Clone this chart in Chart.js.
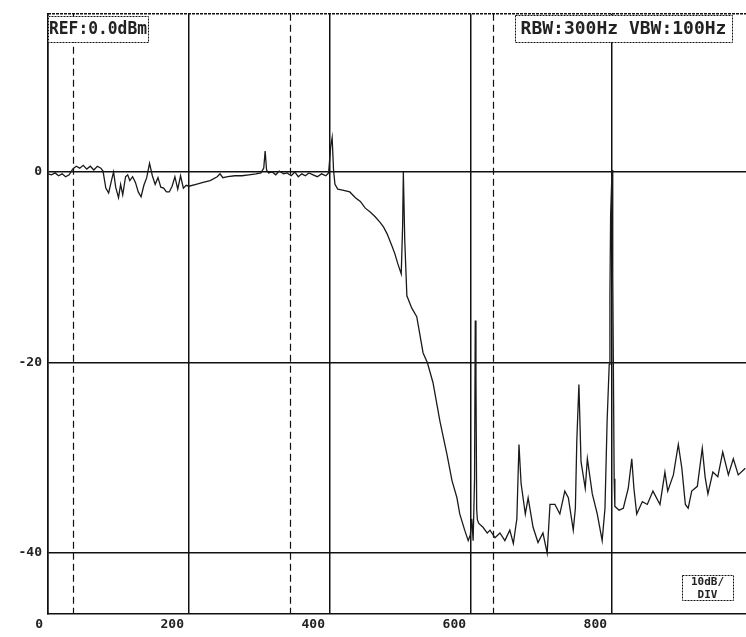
<!DOCTYPE html>
<html>
<head>
<meta charset="utf-8">
<script src="https://cdn.jsdelivr.net/npm/chart.js@4"></script>
<style>
  html, body { margin: 0; padding: 0; background: #fff; }
  #wrap { width: 746px; height: 637px; position: relative; }
</style>
</head>
<body>
<div id="wrap"><canvas id="traceChart"></canvas></div>
<script>
// --- Data ---

const freqX = [
  0, 5, 10, 15, 20, 25, 30, 35, 40, 45, 50, 55, 60, 65, 70, 75, 78,
  82, 86, 90, 93, 96, 100, 103, 106, 110, 113, 116, 120, 124, 128, 132, 136, 140, 144, 148,
  152, 156, 160, 164, 168, 172, 176, 180, 184, 188, 192, 196, 200,
  210, 220, 230, 240, 244, 248, 255, 265, 275, 285, 295, 302, 306, 308, 310, 313, 318, 323,
  328, 334, 339, 345, 350, 355, 360, 365, 370, 376, 382, 388, 394, 398,
  401, 403, 405, 407, 411, 418, 428, 436, 443, 450, 457, 464, 471, 476, 481, 488, 492, 496,
  501, 503, 504, 506, 509, 516, 523, 532, 538, 546, 556, 566, 573, 580, 584, 591, 596, 599,
  601, 603, 605, 606, 607, 608, 609, 611, 617, 623, 627, 634, 641, 648, 655, 660, 665, 668,
  671, 677, 681, 688, 695, 702, 708, 712, 719, 726, 733, 738, 745, 748, 750, 753, 756, 762,
  765, 772, 779, 786, 790, 793, 796, 797, 798, 800, 801, 803, 804, 810, 816, 823, 828, 831,
  835, 843, 850, 858, 868, 875, 879, 887, 894, 899, 904, 908, 913, 921, 928, 932, 936, 943,
  950, 957, 965, 972, 979, 989,
];

const levelY = [
  -0.2, -0.3, -0.1, -0.4, -0.2, -0.5, -0.3, 0.3, 0.6, 0.4, 0.7, 0.3, 0.6, 0.2, 0.6, 0.4, 0.1,
  -1.7, -2.2, -0.9, 0.0, -1.6, -2.7, -1.3, -2.4, -0.5, -0.3, -0.9, -0.5, -1.1, -2.1, -2.6, -1.4, -0.6, 0.9, -0.4,
  -1.3, -0.6, -1.6, -1.7, -2.1, -2.1, -1.5, -0.5, -1.8, -0.4, -1.7, -1.4, -1.5,
  -1.3, -1.1, -0.9, -0.5, -0.2, -0.6, -0.5, -0.4, -0.4, -0.3, -0.2, -0.1, 0.4, 2.2, 0.2, -0.1, 0.0, -0.3,
  0.1, -0.2, -0.1, -0.4, 0.0, -0.5, -0.2, -0.4, -0.1, -0.3, -0.5, -0.2, -0.4, -0.1,
  2.7, 3.6, 0.2, -1.3, -1.8, -1.9, -2.1, -2.7, -3.1, -3.8, -4.2, -4.7, -5.3, -5.8, -6.5, -7.8, -8.6, -9.6,
  -10.7, -5.6, 0.0, -7.2, -13.0, -14.3, -15.2, -19.0, -20.0, -22.1, -26.2, -29.7, -32.4, -34.2, -35.9, -37.6, -38.7, -38.1,
  -36.4, -38.7, -32.2, -15.6, -21.6, -35.4, -36.5, -36.9, -37.3, -37.9, -37.6, -38.4, -37.9, -38.7, -37.6, -39.0, -36.4, -28.6,
  -32.7, -35.9, -34.2, -37.3, -38.9, -37.9, -40.0, -34.9, -34.9, -35.9, -33.5, -34.2, -37.6, -35.3, -28.3, -22.3, -30.4, -33.2,
  -30.1, -33.8, -35.9, -38.7, -35.3, -26.2, -20.2, -13.0, -4.5, 0.2, -10.9, -32.2, -35.1, -35.5, -35.3, -33.2, -30.1, -33.2,
  -35.9, -34.6, -34.9, -33.5, -34.9, -31.5, -33.5, -31.8, -28.6, -31.1, -34.9, -35.3, -33.5, -33.0, -29.0, -32.0, -33.8, -31.5,
  -32.0, -29.4, -31.8, -30.1, -31.8, -31.1,
];

const xTicks = [0, 200, 400, 600, 800];
const yTicks = [0, -20, -40];
const markerX = [35, 343, 631];          // dashed marker lines
const headerLeft = 'REF:0.0dBm';
const headerRight = 'RBW:300Hz VBW:100Hz';
const footerLines = ['10dB/', 'DIV'];

const INK = '#111';
const MONO = "'DejaVu Sans Mono', monospace";

// --- Overlay plugin: frame, marker lines, annotation boxes ---

const printoutOverlay = {
  id: 'printoutOverlay',
  beforeDatasetsDraw(chart) {
    const { ctx, chartArea: a, scales } = chart;
    ctx.save();
    ctx.strokeStyle = INK;
    // top frame line
    ctx.lineWidth = 1.5;
    ctx.setLineDash([3, 1]);
    ctx.beginPath();
    ctx.moveTo(a.left, a.top);
    ctx.lineTo(a.right, a.top);
    ctx.stroke();
    // dashed markers
    ctx.lineWidth = 1.2;
    ctx.setLineDash([7, 4]);
    markerX.forEach(v => {
      const px = Math.round(scales.x.getPixelForValue(v)) + 0.5;
      ctx.beginPath();
      ctx.moveTo(px, a.top);
      ctx.lineTo(px, a.bottom);
      ctx.stroke();
    });
    ctx.restore();
  },
  afterDraw(chart) {
    const { ctx } = chart;
    const box = (x, y, w, h, lines, size) => {
      ctx.save();
      ctx.fillStyle = '#fff';
      ctx.fillRect(x, y, w, h);
      ctx.strokeStyle = INK;
      ctx.lineWidth = 1;
      ctx.setLineDash([2, 1]);
      ctx.strokeRect(x + 0.5, y + 0.5, w, h);
      ctx.fillStyle = '#222';
      ctx.font = `bold ${size}px ${MONO}`;
      ctx.textBaseline = 'middle';
      ctx.textAlign = 'center';
      const step = h / lines.length;
      lines.forEach((t, i) => ctx.fillText(t, x + w / 2, y + step * (i + 0.5) + 1, w - 2));
      ctx.restore();
    };
    box(48, 16, 100, 26, [headerLeft], 17);
    box(515, 15, 217, 27, [headerRight], 18);
    box(682, 575, 51, 25, footerLines, 11);
  },
};

// --- Chart ---

function initTraceChart() {
  const ctx = document.getElementById('traceChart').getContext('2d');
  new Chart(ctx, {
    type: 'line',
    data: {
      datasets: [{
        data: freqX.map((x, i) => ({ x, y: levelY[i] })),
        borderColor: '#1a1a1a',
        borderWidth: 1.3,
        pointRadius: 0,
        tension: 0,
        fill: false,
      }],
    },
    options: {
      responsive: true,
      maintainAspectRatio: false,
      animation: false,
      layout: { padding: { top: 8, right: 0, bottom: 0, left: 0 } },
      plugins: {
        legend: { display: false },
        tooltip: { enabled: false },
      },
      scales: {
        x: {
          type: 'linear',
          min: 0,
          max: 990,
          afterBuildTicks: s => { s.ticks = xTicks.map(value => ({ value })); },
          afterFit: s => { s.height = 23; },
          grid: { color: INK, lineWidth: 1.5, drawTicks: false },
          border: { display: true, color: INK, width: 1.5 },
          ticks: {
            align: 'end',
            labelOffset: -5,
            padding: 3,
            color: '#222',
            maxRotation: 0,
            font: { family: MONO, size: 13, weight: 'bold' },
          },
        },
        y: {
          min: -46.4,
          max: 16.6,
          afterBuildTicks: s => { s.ticks = yTicks.map(value => ({ value })); },
          afterFit: s => { s.width = 48; },
          grid: { color: INK, lineWidth: 1.5, drawTicks: false },
          border: { display: true, color: INK, width: 1.5 },
          ticks: {
            padding: 6,
            color: '#222',
            font: { family: MONO, size: 13, weight: 'bold' },
          },
        },
      },
    },
    plugins: [printoutOverlay],
  });
}

initTraceChart();
</script>
</body>
</html>
